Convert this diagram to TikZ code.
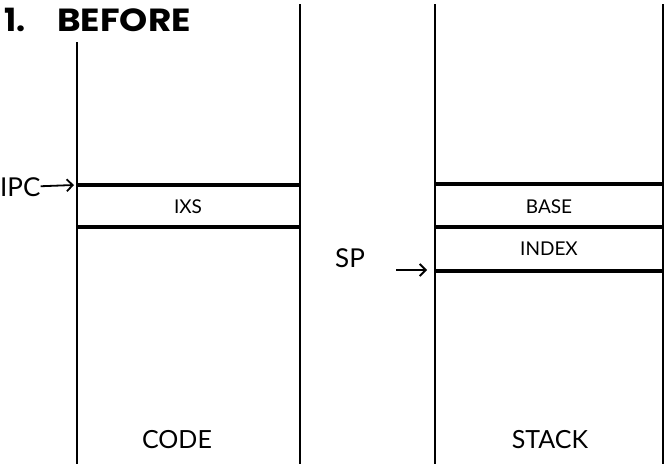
\documentclass[tikz,border=0pt]{standalone}
\usepackage{fontspec}
\setmainfont{Lato}
\newfontfamily\titlefont{Poppins}
\usetikzlibrary{arrows.meta, positioning}

\begin{document}
\begin{tikzpicture}[x=1pt, y=-1pt,
	wall/.style={line width=1.4pt},
	slot/.style={line width=3.2pt},
	cell/.style={font=\fontsize{19}{19}\selectfont, inner sep=0pt},
	tag/.style={font=\fontsize{26}{26}\selectfont, inner sep=0pt},
	ptr/.style={-{Straight Barb[length=6pt, width=12pt, line width=1.8pt]}, line width=1.8pt}]
	\useasboundingbox (0,0) rectangle (666,466);

	% memory areas
	\draw[wall] (77,42) -- (77,464);
	\draw[wall] (300,4) -- (300,464);
	\draw[wall] (435,4) -- (435,464);
	\draw[wall] (663,4) -- (663,464);

	\foreach \y in {185,227}{\draw[slot] (77,\y) -- (300,\y);}
	\foreach \y in {184,227,271}{\draw[slot] (435,\y) -- (663,\y);}

	\node[font=\titlefont\bfseries\fontsize{32}{32}\selectfont, anchor=west, inner sep=0pt] (title) at (4,20) {1.\hspace{32pt}\scalebox{1.12}[1]{BEFORE}};

	\node[cell] (ixs) at (188,207) {IXS};
	\node[cell] (base) at (549,207) {BASE};
	\node[cell] (index) at (549,249) {INDEX};

	\node[tag, anchor=west] (ipc) at (0,187) {IPC};
	\coordinate (ipcend) at (74,185);
	\node[tag, anchor=west] (sp) at (335,258) {SP};
	\coordinate (spstart) at (396,270);
	\coordinate (spend) at (427,270);

	\draw[ptr] (ipc) -- (ipcend);
	\draw[ptr] (spstart) -- (spend);

	\node[font=\fontsize{25}{25}\selectfont] (code) at (177,440) {CODE};
	\node[font=\fontsize{25}{25}\selectfont] (stack) at (550,440) {STACK};
\end{tikzpicture}
\end{document}
